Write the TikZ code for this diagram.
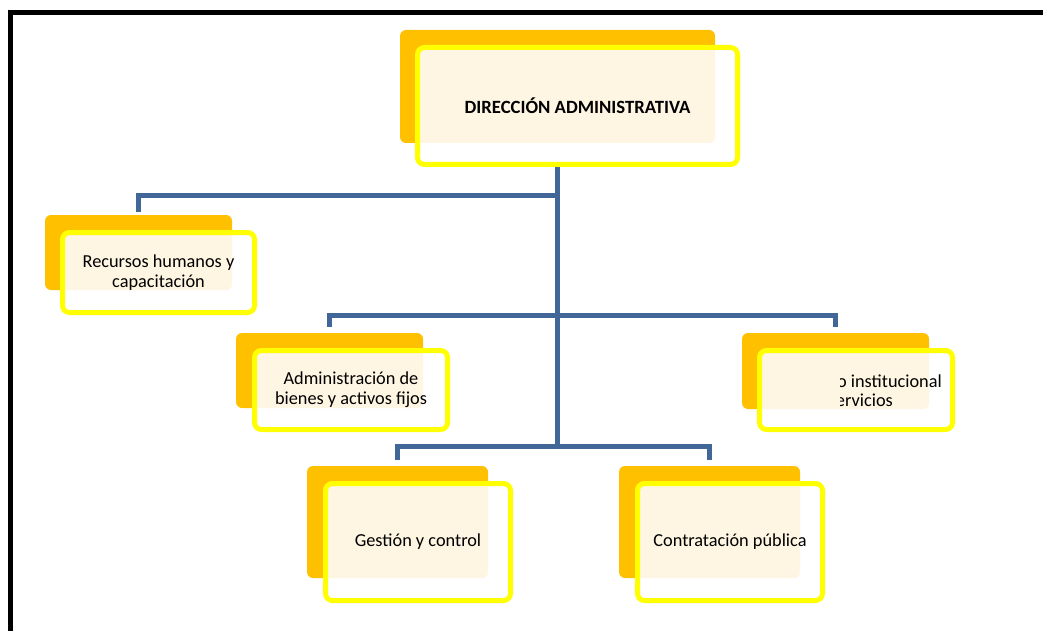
\documentclass[tikz,border=0pt]{standalone}
\usepackage{fontspec}
\setmainfont{Carlito}
\definecolor{shade}{RGB}{255,192,0}
\definecolor{hilite}{RGB}{255,255,0}
\definecolor{dots}{RGB}{254,245,226}
\definecolor{linkblue}{RGB}{65,103,152}
\begin{document}
\begin{tikzpicture}[x=1pt,y=-1pt,
  backbox/.style={fill=shade, draw=none, rounded corners=6pt, outer sep=0pt,
    inner sep=0pt, anchor=north west},
  frontbox/.style={draw=hilite, line width=5pt, fill=white, rounded corners=7pt,
    outer sep=0pt, inner sep=0pt, anchor=north west, align=center,
    font=\fontsize{18.3}{20}\selectfont,
    path picture={\fill[dots, rounded corners=6pt] (#1.north west) rectangle (#1.south east);}},
  conn/.style={draw=linkblue, line width=5pt, line join=miter},
  frame/.style={draw=black, line width=4.5pt, line join=miter},
  cutlabel/.style={anchor=east, inner sep=0pt, font=\fontsize{18.3}{20}\selectfont},
]
\useasboundingbox (0,0) rectangle (1043,631);
\clip (0,0) rectangle (1043,631);

% outer frame (only top and left edges fall inside the page)
\draw[frame] (10.3,650) -- (10.3,12.5) -- (1060,12.5);

% junctions on the trunk
\coordinate (j1) at (557,195);
\coordinate (j2) at (557,315);
\coordinate (j3) at (557,446);

% back (shadow) boxes
\node[backbox, minimum width=315pt, minimum height=113pt] (dirb)  at (400,30)  {};
\node[backbox, minimum width=187pt, minimum height=75pt]  (rrhhb) at (45,215)  {};
\node[backbox, minimum width=187pt, minimum height=75pt]  (admb)  at (236,333) {};
\node[backbox, minimum width=187pt, minimum height=76pt]  (instb) at (742,333) {};
\node[backbox, minimum width=181pt, minimum height=112pt] (gestb) at (307,466) {};
\node[backbox, minimum width=181pt, minimum height=112pt] (contb) at (619,466) {};

% connectors
\draw[conn] (j3 |- 0,160) -- (j3);
\draw[conn, shorten >=3pt] (j1) -| (rrhhb.north);
\draw[conn, shorten >=6pt] (j2) -| (admb.north);
\draw[conn, shorten >=6pt] (j2) -| (instb.north);
\draw[conn, shorten >=6pt] (j3) -| (gestb.north);
\draw[conn, shorten >=6pt] (j3) -| (contb.north);

% front boxes
\node[frontbox=dirb, minimum width=320pt, minimum height=117pt,
      font=\bfseries\fontsize{18.7}{21}\selectfont] (dir) at (417.5,47.5)
      {DIRECCIÓN ADMINISTRATIVA};
\node[frontbox=rrhhb, minimum width=192pt, minimum height=80pt] (rrhh) at (62.5,232.5)
      {Recursos humanos y\\capacitación};
\node[frontbox=admb, minimum width=193pt, minimum height=79pt] (adm) at (254.5,350.5)
      {Administración de\\bienes y activos fijos};
\node[frontbox=instb, minimum width=193pt, minimum height=79pt] (inst) at (759.5,350.5) {};
\node[frontbox=gestb, minimum width=185pt, minimum height=117pt] (gest) at (325.5,483.5)
      {Gestión y control};
\node[frontbox=contb, minimum width=185pt, minimum height=117pt] (cont) at (637.5,483.5)
      {Contratación pública};

% partly hidden label of the right-hand box
\begin{scope}
  \clip (840,355) rectangle (950,425);
  \node[cutlabel] (inst1) at (942,381) {o institucional};
  \node[cutlabel] (inst2) at (893,400) {ervicios};
\end{scope}
\end{tikzpicture}
\end{document}
